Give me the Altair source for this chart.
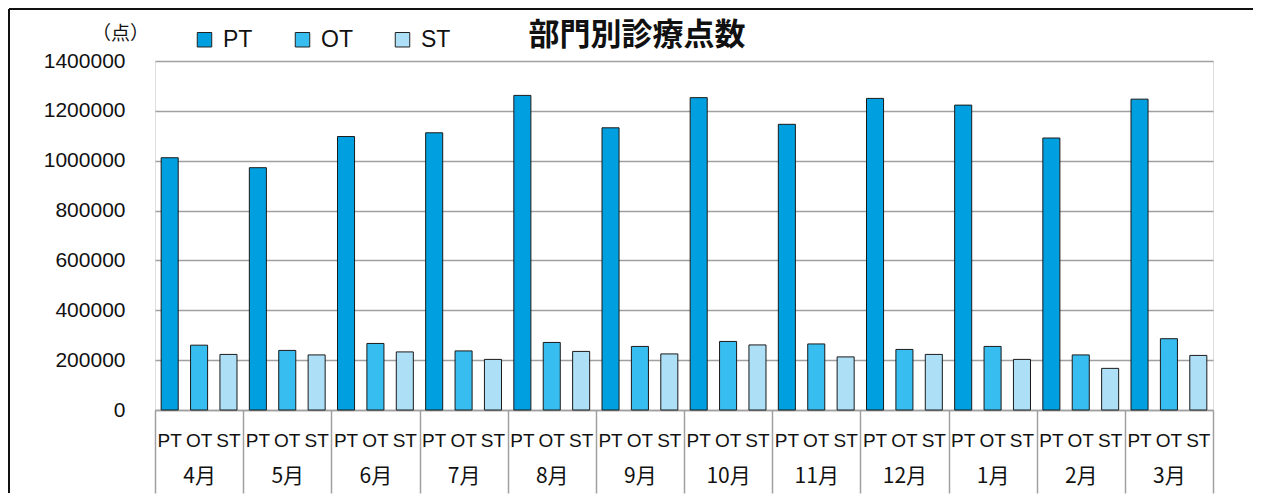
import altair as alt
import pandas as pd

months = ["4月", "5月", "6月", "7月", "8月", "9月", "10月", "11月", "12月", "1月", "2月", "3月"]
series = ["PT", "OT", "ST"]
pt = [1012000, 972000, 1097000, 1112000, 1262000, 1132000, 1253000, 1146000, 1250000, 1223000, 1091000, 1247000]
ot = [260000, 239000, 267000, 237000, 271000, 255000, 275000, 265000, 243000, 255000, 221000, 286000]
st = [223000, 221000, 233000, 203000, 235000, 225000, 261000, 213000, 223000, 203000, 167000, 219000]
colors = ["#00A0E0", "#38BDF0", "#ADDFF7"]
y_ticks = [0, 200000, 400000, 600000, 800000, 1000000, 1200000, 1400000]

rows = []
for i, m in enumerate(months):
    for s, vals in zip(series, [pt, ot, st]):
        rows.append({"month": m, "series": s, "value": vals[i]})
df = pd.DataFrame(rows)

W, H = 1058, 349
LAT = "Liberation Sans, Noto Sans CJK JP"
CJK = "Noto Sans CJK JP"
GRAY = "#a0a0a0"

x_enc = alt.X(
    "month:N", sort=months,
    scale=alt.Scale(paddingInner=0, paddingOuter=0),
    axis=alt.Axis(
        title=None, tickBand="extent", tickSize=83, tickColor=GRAY, tickWidth=1.5,
        domainColor=GRAY, domainWidth=1.5, labelPadding=-17, labelBaseline="middle",
        labelFont=CJK, labelFontSize=21, labelColor="#111", labelAngle=0, grid=False,
    ),
)
xoff = alt.XOffset("series:N", sort=series, scale=alt.Scale(paddingInner=0.42, paddingOuter=0.21))

bars = alt.Chart(df).mark_bar(stroke="#1a1a1a", strokeWidth=1).encode(
    x=x_enc,
    xOffset=xoff,
    y=alt.Y(
        "value:Q",
        scale=alt.Scale(domain=[0, 1400000], nice=False),
        axis=alt.Axis(
            values=y_ticks, format="d", domain=False, ticks=False, grid=True,
            gridColor=GRAY, gridWidth=1.5, labelFont=LAT, labelFontSize=21,
            labelColor="#111", labelPadding=30,
            title="（点）", titleAngle=0, titleX=-35, titleY=-28, titleAlign="center",
            titleBaseline="middle", titleFont=CJK, titleFontSize=19, titleFontWeight="normal",
            titleColor="#111",
        ),
    ),
    color=alt.Color(
        "series:N", sort=series,
        scale=alt.Scale(domain=series, range=colors),
        legend=alt.Legend(
            title=None, orient="none", legendX=38, legendY=-33, direction="horizontal",
            symbolType="square", symbolSize=210, symbolStrokeColor="#222", symbolStrokeWidth=1,
            symbolOpacity=1, labelFont=LAT, labelFontSize=23, labelColor="#111",
            labelOffset=7, columnPadding=38,
        ),
    ),
)

sub_labels = alt.Chart(df).mark_text(
    font=LAT, fontSize=19, color="#111", baseline="middle", align="center"
).encode(
    x=alt.X("month:N", sort=months),
    xOffset=alt.XOffset("series:N", sort=series),
    y=alt.value(380),
    text="series:N",
)

title = alt.Chart(pd.DataFrame({"t": ["部門別診療点数"]})).mark_text(
    font=CJK, fontSize=31, fontWeight="bold", color="#111", baseline="middle", align="center"
).encode(x=alt.value(482), y=alt.value(-25), text="t:N")

frame_top = alt.Chart(pd.DataFrame({"a": [0]})).mark_rule(color="#111", strokeWidth=2).encode(
    x=alt.value(-146), x2=alt.value(1098), y=alt.value(-52)
)
frame_left = alt.Chart(pd.DataFrame({"a": [0]})).mark_rule(color="#111", strokeWidth=2).encode(
    x=alt.value(-146), y=alt.value(-52), y2=alt.value(432)
)

chart = alt.layer(bars, sub_labels, title, frame_top, frame_left).properties(
    width=W, height=H, padding=0
).configure_view(stroke=None).configure(background="white")

chart.save("out.html", embed_options={"renderer": "svg", "actions": False})
